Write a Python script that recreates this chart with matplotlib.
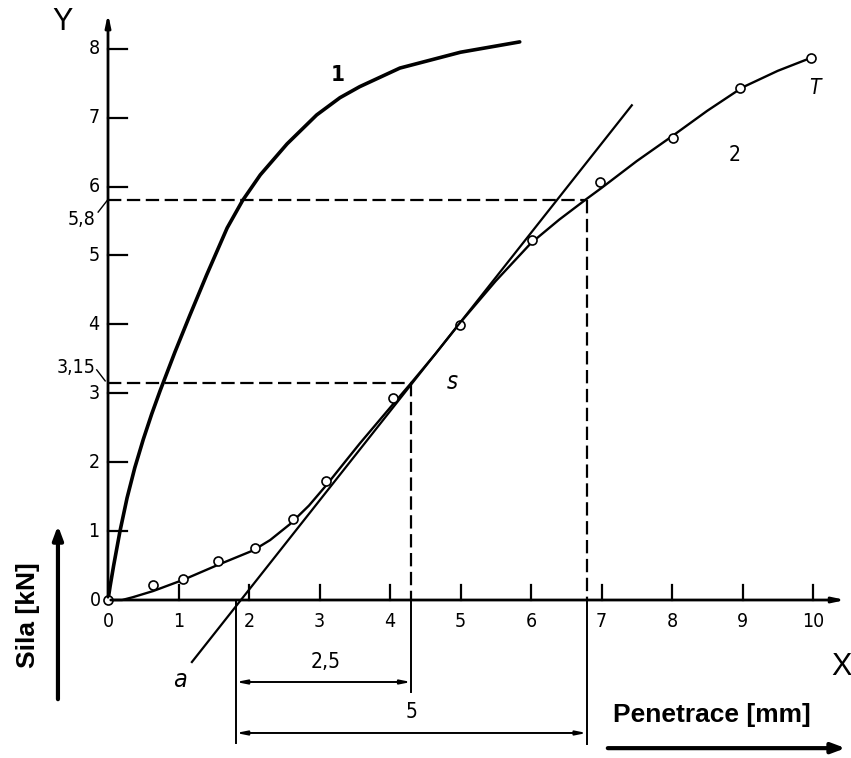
import matplotlib
matplotlib.use("Agg")
import matplotlib.pyplot as plt

# curve 1 (thick, no markers)
c1_x = [0, 0.03, 0.08, 0.17, 0.27, 0.38, 0.50, 0.62, 0.74, 0.95, 1.16, 1.40, 1.69, 1.91,
        2.16, 2.54, 2.96, 3.29, 3.57, 4.14, 5.00, 5.84]
c1_y = [0, 0.20, 0.50, 1.00, 1.48, 1.92, 2.33, 2.70, 3.04, 3.60, 4.13, 4.72, 5.40, 5.80,
        6.17, 6.62, 7.04, 7.29, 7.45, 7.72, 7.95, 8.10]

# curve 2 (drawn line) and measured points
c2_x = [0, 0.20, 0.35, 0.64, 1.06, 1.56, 2.06, 2.30, 2.58, 2.85, 3.10, 3.35, 3.57, 4.00,
        4.30, 4.65, 5.00, 5.50, 6.00, 6.40, 6.80, 7.00, 7.50, 8.00, 8.50, 9.00, 9.50, 10.0]
c2_y = [0, 0.00, 0.04, 0.13, 0.29, 0.51, 0.72, 0.87, 1.10, 1.37, 1.67, 1.99, 2.27, 2.79,
        3.15, 3.58, 4.03, 4.63, 5.18, 5.52, 5.83, 5.98, 6.37, 6.73, 7.10, 7.44, 7.68, 7.88]
pts_x = [0, 0.64, 1.06, 1.56, 2.09, 2.62, 3.09, 4.04, 4.99, 6.01, 6.98, 8.01, 8.96, 9.97]
pts_y = [0, 0.22, 0.30, 0.57, 0.75, 1.17, 1.72, 2.93, 3.99, 5.22, 6.06, 6.71, 7.43, 7.87]

# tangent line a-s
tan_x = [1.19, 7.43]
tan_y = [-0.90, 7.18]

x_ticks = [0, 1, 2, 3, 4, 5, 6, 7, 8, 9, 10]
y_ticks = [0, 1, 2, 3, 4, 5, 6, 7, 8]

x_a, x_s, x_t = 1.816, 4.30, 6.79
y_s, y_t = 3.15, 5.8

narrow = dict(family='DejaVu Sans', stretch='condensed')

fig = plt.figure(figsize=(8.51, 7.58), dpi=100)
ax = fig.add_axes([0, 0, 1, 1])
ax.set_xlim(-1.532, 10.539)
ax.set_ylim(-2.293, 8.708)
ax.axis('off')

# axes with arrows
ax.annotate('', xy=(0, 8.55), xytext=(0, 0),
            arrowprops=dict(arrowstyle='-|>,head_length=0.7,head_width=0.15', lw=2, color='black'))
ax.annotate('', xy=(10.5, 0), xytext=(0, 0),
            arrowprops=dict(arrowstyle='-|>,head_length=0.7,head_width=0.15', lw=2, color='black'))

# ticks
for t in y_ticks[1:]:
    ax.plot([0, 0.27], [t, t], color='black', lw=1.6)
    ax.text(-0.12, t, str(t), ha='right', va='center', fontsize=14, **narrow)
ax.text(-0.1, 0, '0', ha='right', va='center', fontsize=14, **narrow)
for t in x_ticks[1:]:
    ax.plot([t, t], [0, 0.22], color='black', lw=1.6)
for t in x_ticks:
    ax.text(t, -0.17, str(t), ha='center', va='top', fontsize=14, **narrow)

# special values on y axis
ax.text(-0.37, 5.52, '5,8', ha='center', va='center', fontsize=14, **narrow)
ax.plot([-0.14, -0.01], [5.63, 5.80], color='black', lw=1)
ax.text(-0.45, 3.37, '3,15', ha='center', va='center', fontsize=14, **narrow)
ax.plot([-0.16, -0.04], [3.34, 3.18], color='black', lw=1)

# dashed guides
dash = (0, (6, 2.5))
ax.plot([0, x_t], [y_t, y_t], color='black', lw=1.6, ls=dash)
ax.plot([x_t, x_t], [y_t, 0], color='black', lw=1.6, ls=dash)
ax.plot([0, x_s], [y_s, y_s], color='black', lw=1.6, ls=dash)
ax.plot([x_s, x_s], [y_s, 0], color='black', lw=1.6, ls=dash)

# extension lines below the axis
ax.plot([x_a, x_a], [0, -2.08], color='black', lw=1.4)
ax.plot([x_s, x_s], [0, -1.34], color='black', lw=1.4)
ax.plot([x_t, x_t], [0, -2.09], color='black', lw=1.4)

# dimension arrows
dim = dict(arrowstyle='<|-|>,head_length=0.6,head_width=0.12', lw=1.4, color='black',
           shrinkA=0, shrinkB=0)
ax.annotate('', xy=(x_s, -1.19), xytext=(x_a, -1.19), arrowprops=dim)
ax.annotate('', xy=(x_t, -1.93), xytext=(x_a, -1.93), arrowprops=dim)
ax.text(3.08, -0.90, '2,5', ha='center', va='center', fontsize=15, **narrow)
ax.text(4.31, -1.63, '5', ha='center', va='center', fontsize=15, **narrow)

# curves
ax.plot(c1_x, c1_y, color='black', lw=2.6, solid_capstyle='round', solid_joinstyle='round')
ax.plot(c2_x, c2_y, color='black', lw=1.7, solid_joinstyle='round')
ax.plot(pts_x, pts_y, ls='none', marker='o', ms=6.5, mfc='white', mec='black', mew=1.2)
ax.plot(tan_x, tan_y, color='black', lw=1.6)

# curve annotations
ax.text(3.26, 7.62, '1', ha='center', va='center', fontsize=16, fontweight='bold', **narrow)
ax.text(8.89, 6.46, '2', ha='center', va='center', fontsize=15, **narrow)
ax.text(10.03, 7.43, 'T', ha='center', va='center', fontsize=15, style='italic', **narrow)
ax.text(4.88, 3.16, 's', ha='center', va='center', fontsize=17, style='italic', **narrow)
ax.text(1.02, -1.16, 'a', ha='center', va='center', fontsize=18, style='italic', **narrow)

# axis letters
ax.text(-0.65, 8.39, 'Y', ha='center', va='center', fontsize=22, family='Liberation Sans')
ax.text(10.41, -0.97, 'X', ha='center', va='center', fontsize=22, family='Liberation Sans')

# quantity labels
ax.text(8.57, -1.67, 'Penetrace [mm]', ha='center', va='center', fontsize=19,
        fontweight='bold', family='Liberation Sans')
ax.annotate('', xy=(10.5, -2.15), xytext=(7.05, -2.15),
            arrowprops=dict(arrowstyle='-|>,head_length=0.8,head_width=0.3', lw=3, color='black'))
ax.text(-1.14, -0.22, 'Sila [kN]', ha='center', va='center', fontsize=19, rotation=90,
        fontweight='bold', family='Liberation Sans')
ax.annotate('', xy=(-0.71, 1.12), xytext=(-0.71, -1.48),
            arrowprops=dict(arrowstyle='-|>,head_length=0.8,head_width=0.3', lw=3, color='black'))

fig.savefig('out.png', dpi=100)
